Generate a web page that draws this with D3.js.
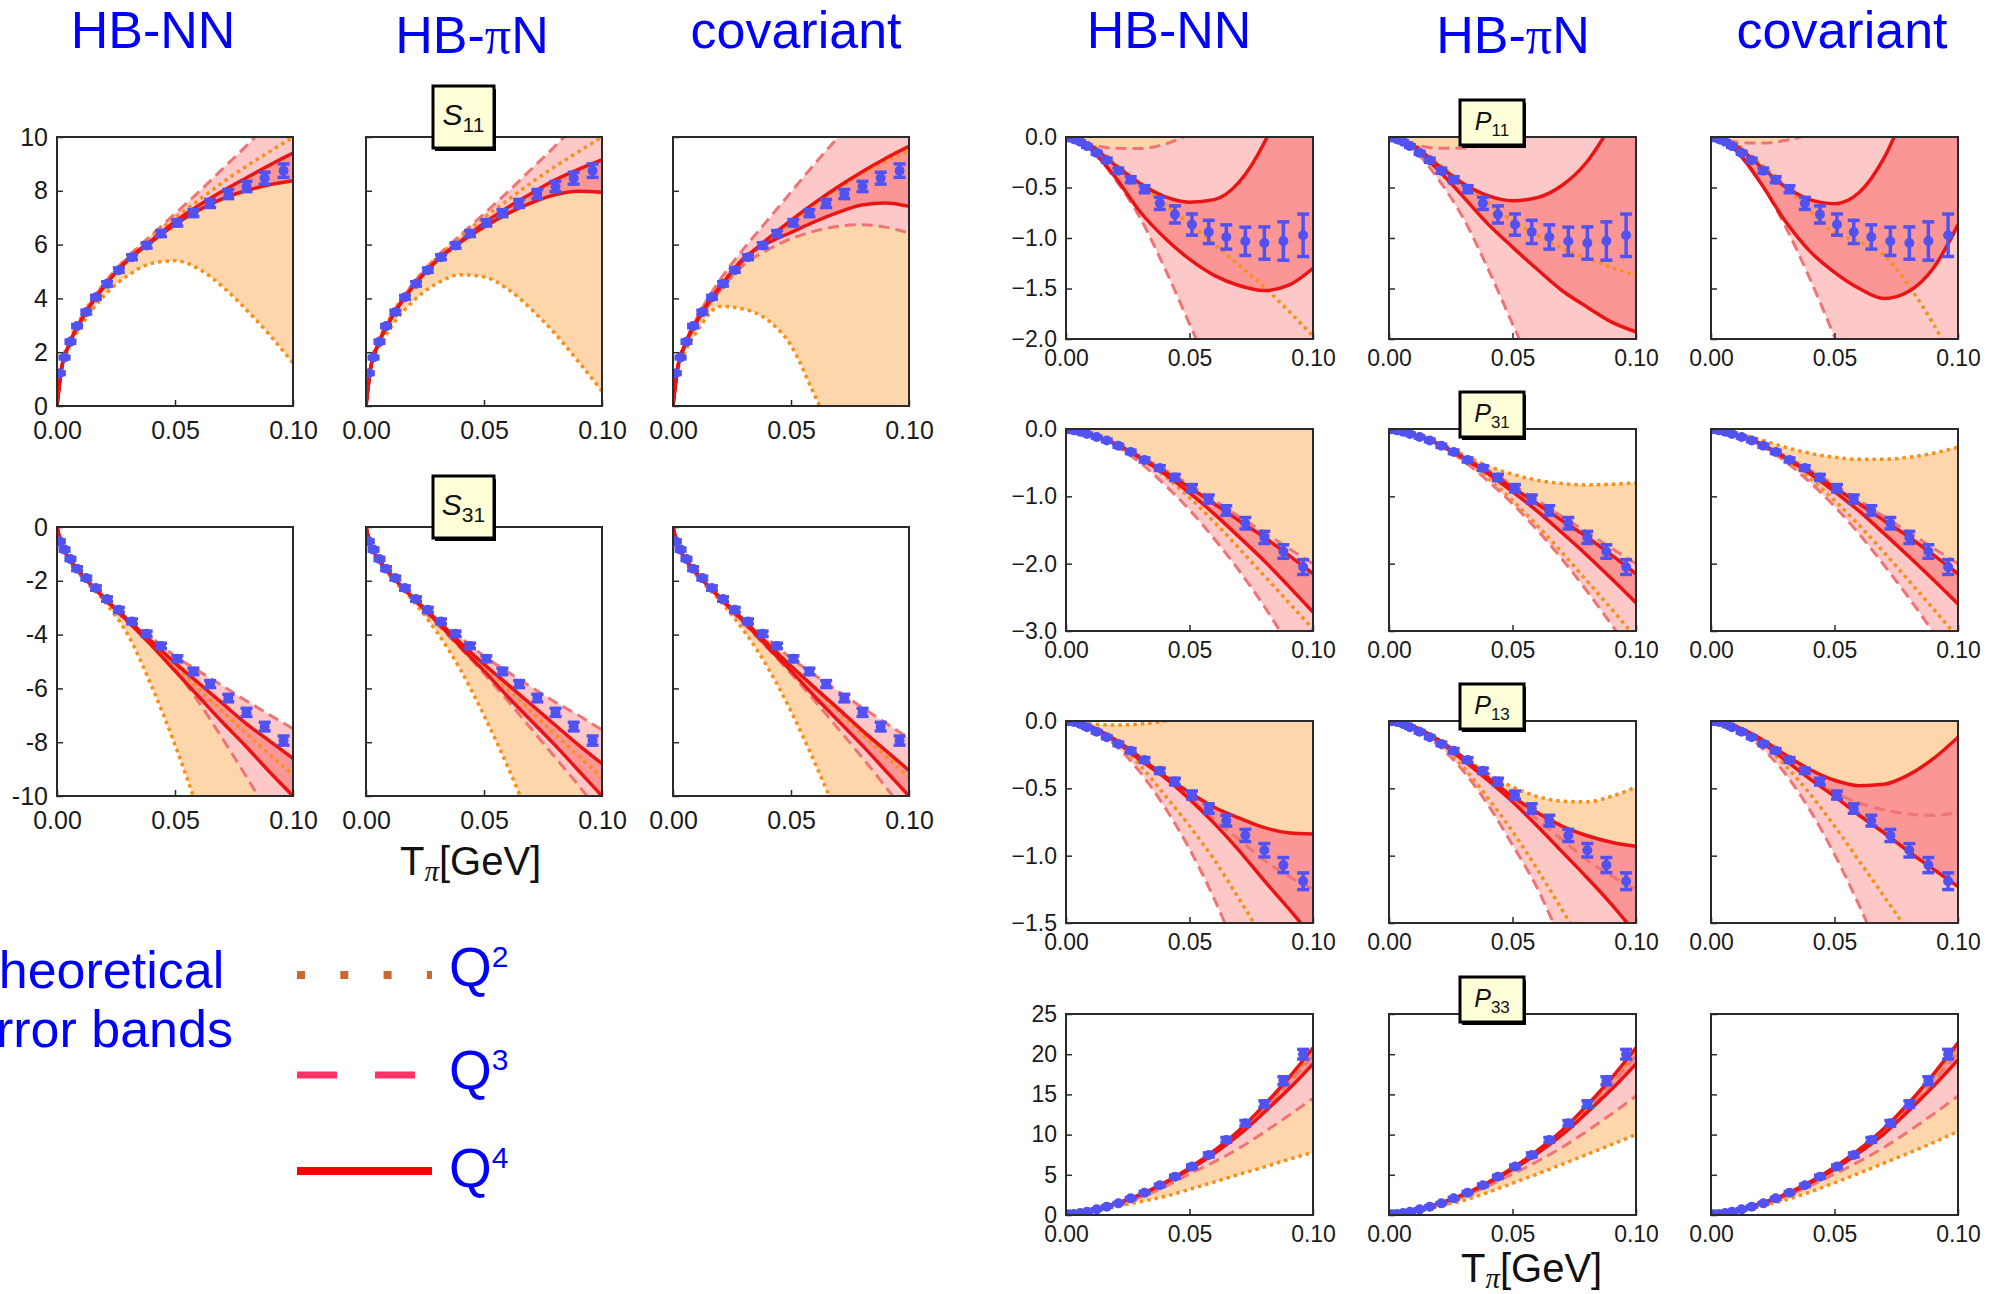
<!DOCTYPE html>
<html>
<head>
<meta charset="utf-8">
<script src="https://cdn.jsdelivr.net/npm/d3@7"></script>
<style>
  body { margin: 0; background: #fff; }
  svg { display: block; }
</style>
</head>
<body>
<svg id="chart" width="2001" height="1294"></svg>
<script>
// ---------- shared abscissae (T_pi in GeV) ----------
const T_GRID = [0, 0.002, 0.005, 0.01, 0.02, 0.03, 0.04, 0.05, 0.06, 0.07, 0.08, 0.09, 0.1];
const T_DATA = [0.0012, 0.0032, 0.0057, 0.0085, 0.0124, 0.0165, 0.0212, 0.0262, 0.0318, 0.038,
                0.0441, 0.051, 0.0578, 0.0649, 0.0726, 0.0803, 0.088, 0.096];
const X_TICKS = [0, 0.05, 0.1];
const X_TICK_LABELS = ["0.00", "0.05", "0.10"];

// ---------- phase-shift data (degrees) with errors ----------
const S11_DATA = [1.22, 1.8, 2.39, 2.97, 3.49, 4.04, 4.54, 5.05, 5.53, 5.97, 6.41, 6.81, 7.17, 7.53, 7.88, 8.16, 8.47, 8.75];
const S11_ERR  = [0.05, 0.05, 0.06, 0.06, 0.07, 0.07, 0.08, 0.08, 0.09, 0.1, 0.11, 0.12, 0.13, 0.15, 0.17, 0.19, 0.22, 0.25];
const S31_DATA = [-0.53, -0.84, -1.19, -1.55, -1.9, -2.27, -2.68, -3.08, -3.51, -3.97, -4.42, -4.9, -5.37, -5.84, -6.36, -6.89, -7.42, -7.94];
const S31_ERR  = [0.05, 0.06, 0.06, 0.07, 0.07, 0.08, 0.08, 0.09, 0.09, 0.1, 0.1, 0.11, 0.12, 0.13, 0.14, 0.15, 0.16, 0.17];
const P11_DATA = [-0.005, -0.023, -0.047, -0.09, -0.157, -0.23, -0.333, -0.423, -0.517, -0.657, -0.767, -0.867, -0.94, -0.99, -1.033, -1.05, -1.03, -0.973];
const P11_ERR  = [0.005, 0.008, 0.01, 0.012, 0.015, 0.02, 0.025, 0.03, 0.035, 0.06, 0.085, 0.105, 0.115, 0.12, 0.14, 0.16, 0.19, 0.21];
const P31_DATA = [-0.003, -0.02, -0.04, -0.074, -0.12, -0.17, -0.25, -0.34, -0.46, -0.58, -0.72, -0.88, -1.04, -1.21, -1.4, -1.61, -1.82, -2.05];
const P31_ERR  = [0.01, 0.01, 0.012, 0.014, 0.016, 0.02, 0.022, 0.025, 0.03, 0.035, 0.045, 0.055, 0.06, 0.07, 0.085, 0.09, 0.1, 0.11];
const P13_DATA = [-0.002, -0.007, -0.022, -0.047, -0.08, -0.12, -0.17, -0.22, -0.29, -0.37, -0.45, -0.55, -0.65, -0.74, -0.85, -0.96, -1.07, -1.19];
const P13_ERR  = [0.005, 0.006, 0.007, 0.008, 0.01, 0.011, 0.013, 0.015, 0.018, 0.02, 0.025, 0.03, 0.035, 0.04, 0.045, 0.05, 0.056, 0.062];
const P33_DATA = [0.08, 0.12, 0.25, 0.41, 0.7, 1.04, 1.45, 2.07, 2.78, 3.69, 4.77, 6.02, 7.47, 9.34, 11.4, 13.8, 16.7, 20.0];
const P33_ERR  = [0.05, 0.05, 0.06, 0.07, 0.08, 0.09, 0.1, 0.12, 0.14, 0.16, 0.18, 0.2, 0.25, 0.3, 0.35, 0.4, 0.5, 0.6];

// ---------- theoretical error-band edges on T_GRID ----------
// S11
const S11_NN_Q2_LO = [0, 1.38, 2.15, 2.95, 4.1, 4.85, 5.3, 5.4, 5.1, 4.45, 3.6, 2.65, 1.6];
const S11_NN_Q2_UP = [0, 1.5, 2.35, 3.25, 4.55, 5.5, 6.3, 7.0, 7.65, 8.3, 8.9, 9.45, 10.0];
const S11_NN_Q3_LO = [0, 1.42, 2.25, 3.15, 4.45, 5.42, 6.1, 6.75, 7.28, 7.7, 8.0, 8.22, 8.37];
const S11_NN_Q3_UP = [0, 1.45, 2.3, 3.2, 4.55, 5.55, 6.35, 7.15, 7.95, 8.8, 9.65, 10.55, 11.5];
const S11_NN_Q4_LO = [0, 1.42, 2.25, 3.15, 4.45, 5.42, 6.1, 6.75, 7.28, 7.7, 8.0, 8.22, 8.37];
const S11_NN_Q4_UP = [0, 1.42, 2.25, 3.15, 4.45, 5.45, 6.15, 6.85, 7.45, 7.98, 8.47, 8.95, 9.4];

const S11_PN_Q2_LO = [0, 1.35, 2.1, 2.85, 3.9, 4.55, 4.88, 4.8, 4.35, 3.6, 2.7, 1.65, 0.55];
const S11_PN_Q2_UP = [0, 1.5, 2.35, 3.25, 4.55, 5.5, 6.3, 7.0, 7.65, 8.3, 8.9, 9.45, 10.0];
const S11_PN_Q3_LO = [0, 1.42, 2.25, 3.15, 4.45, 5.4, 6.08, 6.65, 7.15, 7.55, 7.85, 7.98, 7.95];
const S11_PN_Q3_UP = [0, 1.45, 2.3, 3.2, 4.55, 5.55, 6.35, 7.15, 7.95, 8.8, 9.65, 10.55, 11.5];
const S11_PN_Q4_LO = [0, 1.42, 2.25, 3.15, 4.45, 5.4, 6.08, 6.65, 7.15, 7.55, 7.85, 7.98, 7.95];
const S11_PN_Q4_UP = [0, 1.42, 2.25, 3.15, 4.45, 5.42, 6.12, 6.8, 7.38, 7.9, 8.4, 8.8, 9.15];

const S11_CV_Q2_LO = [0, 1.3, 2.0, 2.75, 3.7, 3.6, 3.2, 2.25, 0.4, -1.5, -3.6, -5.9, -8.4];
const S11_CV_Q2_UP = [0, 1.45, 2.3, 3.2, 4.5, 5.45, 6.15, 6.85, 7.5, 8.1, 8.65, 9.1, 9.5];
const S11_CV_Q3_LO = [0, 1.4, 2.2, 3.05, 4.3, 5.25, 5.8, 6.22, 6.5, 6.68, 6.74, 6.65, 6.43];
const S11_CV_Q3_UP = [0, 1.45, 2.3, 3.25, 4.7, 5.85, 6.9, 7.95, 9.0, 10.0, 11.0, 12.0, 13.0];
const S11_CV_Q4_LO = [0, 1.42, 2.25, 3.15, 4.42, 5.5, 6.05, 6.45, 6.85, 7.2, 7.47, 7.55, 7.42];
const S11_CV_Q4_UP = [0, 1.42, 2.25, 3.15, 4.45, 5.45, 6.2, 6.9, 7.55, 8.15, 8.7, 9.2, 9.65];

// S31
const S31_NN_Q2_LO = [0, -0.7, -1.2, -1.8, -2.75, -4.0, -5.9, -8.1, -10.6, -13.3, -16, -19, -22];
const S31_NN_Q2_UP = [0, -0.65, -1.1, -1.68, -2.6, -3.45, -4.3, -5.15, -6.0, -6.85, -7.65, -8.45, -9.2];
const S31_NN_Q3_LO = [0, -0.68, -1.15, -1.74, -2.7, -3.55, -4.3, -5.3, -6.5, -7.85, -9.25, -10.7, -12.2];
const S31_NN_Q3_UP = [0, -0.68, -1.15, -1.72, -2.62, -3.4, -4.1, -4.8, -5.35, -5.9, -6.45, -6.98, -7.5];
const S31_NN_Q4_LO = [0, -0.68, -1.15, -1.72, -2.65, -3.5, -4.4, -5.35, -6.3, -7.25, -8.15, -9.1, -10.0];
const S31_NN_Q4_UP = [0, -0.68, -1.15, -1.72, -2.63, -3.45, -4.25, -5.05, -5.8, -6.55, -7.3, -7.95, -8.6];

const S31_PN_Q2_LO = [0, -0.7, -1.2, -1.8, -2.75, -3.9, -5.3, -7.0, -8.9, -11, -13.2, -15.6, -18];
const S31_PN_Q2_UP = [0, -0.65, -1.1, -1.68, -2.6, -3.45, -4.3, -5.15, -6.0, -6.85, -7.7, -8.5, -9.3];
const S31_PN_Q3_LO = [0, -0.68, -1.15, -1.74, -2.7, -3.6, -4.5, -5.45, -6.45, -7.5, -8.55, -9.6, -10.7];
const S31_PN_Q3_UP = [0, -0.68, -1.15, -1.72, -2.62, -3.4, -4.1, -4.8, -5.38, -5.95, -6.5, -7.0, -7.55];
const S31_PN_Q4_LO = [0, -0.68, -1.15, -1.72, -2.65, -3.52, -4.45, -5.35, -6.3, -7.2, -8.1, -9.05, -10.0];
const S31_PN_Q4_UP = [0, -0.68, -1.15, -1.72, -2.63, -3.45, -4.3, -5.1, -5.85, -6.6, -7.35, -8.1, -8.8];

const S31_CV_Q2_LO = [0, -0.7, -1.2, -1.8, -2.75, -3.85, -5.2, -6.85, -8.75, -10.8, -13, -15.4, -18];
const S31_CV_Q2_UP = [0, -0.65, -1.1, -1.68, -2.6, -3.45, -4.3, -5.17, -6.0, -6.85, -7.7, -8.5, -9.3];
const S31_CV_Q3_LO = [0, -0.68, -1.15, -1.74, -2.7, -3.6, -4.5, -5.45, -6.45, -7.5, -8.55, -9.65, -10.8];
const S31_CV_Q3_UP = [0, -0.68, -1.15, -1.72, -2.62, -3.42, -4.15, -4.88, -5.5, -6.1, -6.7, -7.28, -7.85];
const S31_CV_Q4_LO = [0, -0.68, -1.15, -1.72, -2.65, -3.52, -4.45, -5.35, -6.3, -7.2, -8.1, -9.05, -10.0];
const S31_CV_Q4_UP = [0, -0.68, -1.15, -1.72, -2.63, -3.47, -4.33, -5.17, -5.97, -6.75, -7.55, -8.3, -9.05];

// P11
const P11_NN_Q2_LO = [0, -0.002, -0.01, -0.07, -0.27, -0.47, -0.67, -0.86, -1.06, -1.27, -1.48, -1.72, -1.97];
const P11_NN_Q2_UP = [0, 0.02, 0.05, 0.1, 0.2, 0.3, 0.4, 0.5, 0.6, 0.7, 0.8, 0.9, 1.0];
const P11_NN_Q3_LO = [0, -0.003, -0.02, -0.12, -0.42, -0.8, -1.3, -1.85, -2.4, -3.0, -3.6, -4.2, -4.8];
const P11_NN_Q3_UP = [0, -0.02, -0.045, -0.075, -0.112, -0.115, -0.07, 0.03, 0.2, 0.4, 0.6, 0.8, 1.0];
const P11_NN_Q4_LO = [0, -0.004, -0.03, -0.12, -0.4, -0.74, -1.0, -1.21, -1.37, -1.47, -1.52, -1.47, -1.3];
const P11_NN_Q4_UP = [0, -0.003, -0.02, -0.085, -0.28, -0.46, -0.59, -0.645, -0.62, -0.45, -0.07, 0.5, 1.2];

const P11_PN_Q2_LO = [0, -0.002, -0.01, -0.07, -0.27, -0.46, -0.65, -0.83, -0.97, -1.1, -1.2, -1.29, -1.37];
const P11_PN_Q2_UP = [0, 0.02, 0.05, 0.1, 0.2, 0.3, 0.4, 0.5, 0.6, 0.7, 0.8, 0.9, 1.0];
const P11_PN_Q3_LO = [0, -0.003, -0.02, -0.12, -0.42, -0.8, -1.3, -1.85, -2.4, -3.0, -3.6, -4.2, -4.8];
const P11_PN_Q3_UP = [0, -0.02, -0.045, -0.075, -0.112, -0.11, -0.06, 0.04, 0.2, 0.4, 0.6, 0.8, 1.0];
const P11_PN_Q4_LO = [0, -0.004, -0.03, -0.1, -0.33, -0.59, -0.86, -1.09, -1.31, -1.52, -1.68, -1.83, -1.93];
const P11_PN_Q4_UP = [0, -0.003, -0.02, -0.085, -0.28, -0.46, -0.58, -0.63, -0.6, -0.48, -0.25, 0.12, 0.55];

const P11_CV_Q2_LO = [0, -0.002, -0.01, -0.07, -0.27, -0.48, -0.73, -0.95, -1.04, -1.17, -1.47, -1.85, -2.3];
const P11_CV_Q2_UP = [0, 0.02, 0.05, 0.1, 0.2, 0.3, 0.4, 0.5, 0.6, 0.7, 0.8, 0.9, 1.0];
const P11_CV_Q3_LO = [0, -0.004, -0.03, -0.14, -0.45, -0.88, -1.4, -1.98, -2.6, -3.2, -3.8, -4.4, -5.0];
const P11_CV_Q3_UP = [0, -0.015, -0.03, -0.05, -0.06, -0.035, 0.03, 0.15, 0.3, 0.5, 0.7, 0.9, 1.1];
const P11_CV_Q4_LO = [0, -0.004, -0.04, -0.13, -0.45, -0.83, -1.13, -1.34, -1.5, -1.6, -1.53, -1.3, -0.87];
const P11_CV_Q4_UP = [0, -0.003, -0.02, -0.085, -0.29, -0.49, -0.62, -0.66, -0.55, -0.21, 0.34, 1.0, 1.8];

// P31
const P31_NN_Q2_LO = [0, -0.002, -0.025, -0.085, -0.22, -0.43, -0.7, -1.02, -1.38, -1.77, -2.17, -2.57, -2.97];
const P31_NN_Q2_UP = [0, 0.02, 0.05, 0.1, 0.2, 0.3, 0.4, 0.5, 0.6, 0.7, 0.8, 0.9, 1.0];
const P31_NN_Q3_LO = [0, -0.003, -0.027, -0.09, -0.25, -0.5, -0.83, -1.2, -1.63, -2.1, -2.62, -3.2, -3.8];
const P31_NN_Q3_UP = [0, -0.002, -0.022, -0.08, -0.21, -0.4, -0.61, -0.83, -1.06, -1.3, -1.53, -1.77, -2.0];
const P31_NN_Q4_LO = [0, -0.002, -0.025, -0.085, -0.22, -0.43, -0.67, -0.95, -1.26, -1.6, -1.95, -2.33, -2.72];
const P31_NN_Q4_UP = [0, -0.002, -0.025, -0.085, -0.22, -0.42, -0.64, -0.87, -1.11, -1.36, -1.6, -1.87, -2.15];

const P31_PN_Q2_LO = [0, -0.002, -0.025, -0.087, -0.23, -0.45, -0.73, -1.06, -1.43, -1.83, -2.25, -2.67, -3.1];
const P31_PN_Q2_UP = [0, -0.002, -0.02, -0.07, -0.2, -0.38, -0.55, -0.67, -0.76, -0.81, -0.83, -0.82, -0.8];
const P31_PN_Q3_LO = [0, -0.003, -0.027, -0.09, -0.24, -0.47, -0.77, -1.11, -1.5, -1.93, -2.4, -2.9, -3.4];
const P31_PN_Q3_UP = [0, -0.002, -0.022, -0.08, -0.21, -0.4, -0.61, -0.83, -1.06, -1.3, -1.53, -1.77, -2.0];
const P31_PN_Q4_LO = [0, -0.002, -0.025, -0.085, -0.22, -0.43, -0.66, -0.93, -1.22, -1.54, -1.87, -2.22, -2.58];
const P31_PN_Q4_UP = [0, -0.002, -0.025, -0.085, -0.22, -0.42, -0.64, -0.87, -1.11, -1.36, -1.6, -1.87, -2.15];

const P31_CV_Q2_LO = [0, -0.002, -0.025, -0.087, -0.23, -0.45, -0.73, -1.06, -1.43, -1.83, -2.25, -2.67, -3.1];
const P31_CV_Q2_UP = [0, -0.002, -0.02, -0.06, -0.16, -0.27, -0.36, -0.42, -0.45, -0.45, -0.42, -0.36, -0.27];
const P31_CV_Q3_LO = [0, -0.003, -0.027, -0.09, -0.245, -0.48, -0.79, -1.15, -1.56, -2.02, -2.5, -3.02, -3.55];
const P31_CV_Q3_UP = [0, -0.002, -0.022, -0.08, -0.21, -0.4, -0.61, -0.83, -1.06, -1.3, -1.53, -1.77, -2.0];
const P31_CV_Q4_LO = [0, -0.002, -0.025, -0.085, -0.22, -0.43, -0.66, -0.93, -1.22, -1.55, -1.89, -2.24, -2.6];
const P31_CV_Q4_UP = [0, -0.002, -0.025, -0.085, -0.22, -0.42, -0.64, -0.87, -1.11, -1.36, -1.6, -1.87, -2.15];

// P13
const P13_NN_Q2_LO = [0, -0.001, -0.012, -0.048, -0.16, -0.33, -0.55, -0.78, -1.03, -1.32, -1.62, -1.95, -2.3];
const P13_NN_Q2_UP = [0, -0.006, -0.012, -0.022, -0.03, -0.022, 0.0, 0.05, 0.15, 0.3, 0.45, 0.6, 0.75];
const P13_NN_Q3_LO = [0, -0.001, -0.012, -0.05, -0.18, -0.38, -0.64, -0.95, -1.32, -1.75, -2.2, -2.7, -3.2];
const P13_NN_Q3_UP = [0, -0.001, -0.01, -0.042, -0.14, -0.27, -0.42, -0.57, -0.73, -0.88, -1.03, -1.15, -1.25];
const P13_NN_Q4_LO = [0, -0.001, -0.01, -0.045, -0.15, -0.29, -0.42, -0.58, -0.76, -0.96, -1.18, -1.39, -1.61];
const P13_NN_Q4_UP = [0, -0.001, -0.01, -0.04, -0.14, -0.27, -0.41, -0.53, -0.64, -0.72, -0.79, -0.83, -0.84];

const P13_PN_Q2_LO = [0, -0.001, -0.012, -0.048, -0.16, -0.34, -0.57, -0.82, -1.1, -1.4, -1.7, -2.0, -2.3];
const P13_PN_Q2_UP = [0, -0.001, -0.01, -0.04, -0.14, -0.27, -0.39, -0.49, -0.56, -0.595, -0.6, -0.56, -0.49];
const P13_PN_Q3_LO = [0, -0.001, -0.012, -0.05, -0.18, -0.37, -0.62, -0.92, -1.24, -1.65, -2.1, -2.6, -3.1];
const P13_PN_Q3_UP = [0, -0.001, -0.01, -0.042, -0.14, -0.27, -0.42, -0.57, -0.73, -0.88, -1.03, -1.15, -1.25];
const P13_PN_Q4_LO = [0, -0.001, -0.01, -0.045, -0.15, -0.29, -0.44, -0.6, -0.78, -0.97, -1.16, -1.36, -1.58];
const P13_PN_Q4_UP = [0, -0.001, -0.01, -0.04, -0.14, -0.27, -0.42, -0.56, -0.68, -0.78, -0.85, -0.9, -0.93];

const P13_CV_Q2_LO = [0, -0.001, -0.012, -0.047, -0.16, -0.33, -0.54, -0.78, -1.04, -1.3, -1.57, -1.88, -2.2];
const P13_CV_Q2_UP = [0, 0.01, 0.02, 0.04, 0.08, 0.12, 0.16, 0.2, 0.25, 0.3, 0.35, 0.4, 0.45];
const P13_CV_Q3_LO = [0, -0.001, -0.012, -0.05, -0.19, -0.39, -0.66, -0.99, -1.37, -1.8, -2.25, -2.75, -3.25];
const P13_CV_Q3_UP = [0, -0.001, -0.01, -0.04, -0.14, -0.28, -0.42, -0.53, -0.61, -0.66, -0.69, -0.7, -0.68];
const P13_CV_Q4_LO = [0, -0.001, -0.01, -0.042, -0.15, -0.29, -0.43, -0.56, -0.7, -0.83, -0.97, -1.1, -1.23];
const P13_CV_Q4_UP = [0, -0.001, -0.01, -0.04, -0.13, -0.25, -0.36, -0.44, -0.48, -0.47, -0.4, -0.28, -0.12];

// P33
const P33_NN_Q2_LO = [0, 0.06, 0.17, 0.45, 1.05, 1.65, 2.3, 3.2, 4.1, 5.05, 5.95, 6.9, 7.8];
const P33_NN_Q2_UP = [0, 0.07, 0.2, 0.55, 1.4, 2.55, 4.0, 5.8, 7.9, 10.4, 13.3, 16.6, 20.3];
const P33_NN_Q3_LO = [0, 0.07, 0.2, 0.52, 1.25, 2.2, 3.5, 5.1, 6.6, 8.3, 10.25, 12.35, 14.5];
const P33_NN_Q3_UP = [0, 0.07, 0.2, 0.55, 1.39, 2.52, 3.98, 5.72, 7.8, 10.2, 13.1, 16.3, 19.8];
const P33_NN_Q4_LO = [0, 0.07, 0.2, 0.55, 1.38, 2.5, 3.95, 5.65, 7.65, 9.95, 12.7, 15.6, 18.8];
const P33_NN_Q4_UP = [0, 0.07, 0.2, 0.55, 1.4, 2.55, 4.05, 5.85, 8.0, 10.5, 13.6, 17.0, 20.8];

const P33_PN_Q2_LO = [0, 0.06, 0.18, 0.48, 1.1, 1.8, 2.8, 3.95, 5.1, 6.3, 7.5, 8.75, 10.0];
const P33_PN_Q2_UP = [0, 0.07, 0.2, 0.55, 1.4, 2.55, 4.0, 5.8, 7.9, 10.4, 13.3, 16.6, 20.3];
const P33_PN_Q3_LO = [0, 0.07, 0.2, 0.53, 1.3, 2.3, 3.6, 5.1, 6.65, 8.4, 10.4, 12.55, 14.8];
const P33_PN_Q3_UP = [0, 0.07, 0.2, 0.55, 1.39, 2.52, 3.98, 5.72, 7.8, 10.2, 13.1, 16.3, 19.8];
const P33_PN_Q4_LO = [0, 0.07, 0.2, 0.55, 1.38, 2.5, 3.95, 5.65, 7.65, 9.95, 12.7, 15.6, 18.8];
const P33_PN_Q4_UP = [0, 0.07, 0.2, 0.55, 1.4, 2.55, 4.05, 5.85, 8.0, 10.5, 13.6, 17.0, 20.8];

const P33_CV_Q2_LO = [0, 0.06, 0.18, 0.48, 1.12, 1.85, 2.85, 4.0, 5.2, 6.45, 7.7, 9.0, 10.4];
const P33_CV_Q2_UP = [0, 0.07, 0.2, 0.55, 1.4, 2.56, 4.05, 5.9, 8.05, 10.6, 13.7, 17.2, 21.0];
const P33_CV_Q3_LO = [0, 0.07, 0.2, 0.53, 1.3, 2.3, 3.6, 5.1, 6.65, 8.4, 10.4, 12.55, 14.8];
const P33_CV_Q3_UP = [0, 0.07, 0.2, 0.55, 1.39, 2.53, 4.0, 5.8, 7.9, 10.35, 13.3, 16.6, 20.2];
const P33_CV_Q4_LO = [0, 0.07, 0.2, 0.55, 1.38, 2.5, 3.97, 5.7, 7.75, 10.1, 12.95, 16.0, 19.3];
const P33_CV_Q4_UP = [0, 0.07, 0.2, 0.55, 1.4, 2.57, 4.1, 5.95, 8.15, 10.75, 13.9, 17.5, 21.4];

// ---------- axis tick values ----------
const S11_TICKS = [0, 2, 4, 6, 8, 10];
const S31_TICKS = [0, -2, -4, -6, -8, -10];
const P11_TICKS = [0, -0.5, -1.0, -1.5, -2.0];
const P31_TICKS = [0, -1.0, -2.0, -3.0];
const P13_TICKS = [0, -0.5, -1.0, -1.5];
const P33_TICKS = [0, 5, 10, 15, 20, 25];

// ---------- titles / legend text ----------
const SCHEMES = ["HB-NN", "HB-\u03c0N", "covariant"];
const ORDERS = ["2", "3", "4"];

// ---------- layout ----------
const LEFT  = { cols: [57, 366, 673],    w: 236, box: { x: 433, w: 61, up: 51, h: 62 }, font: 25, xPad: 15 };
const RIGHT = { cols: [1066, 1389, 1711], w: 247, box: { x: 1460, w: 64, up: 37, h: 45 }, font: 23, xPad: 11 };

const COLORS = {
  q2Fill: "#fdd6ab", q3Fill: "#fdc8c8", q4Fill: "#fa9696",
  q2Line: "#f7901a", q3Line: "#f07474", q4Line: "#ea1414",
  data: "#5252f2", frame: "#2a2a2a", title: "#0000ff"
};
const FONT = "'Liberation Sans', Arial, Helvetica, sans-serif";

const fmtInt = v => (v < 0 ? "-" + Math.abs(v) : String(v));
const fmtOne = v => (v < 0 ? "\u2212" + Math.abs(v).toFixed(1) : v.toFixed(1));

const bands = (a) => ({ q2: [a[0], a[1]], q3: [a[2], a[3]], q4: [a[4], a[5]] });

const PANELS = [
  { key: "S11", label: "S", sub: "11", side: LEFT, top: 137, h: 269, domain: [0, 10], ticks: S11_TICKS, fmt: fmtInt,
    data: S11_DATA, err: S11_ERR,
    sets: [bands([S11_NN_Q2_LO, S11_NN_Q2_UP, S11_NN_Q3_LO, S11_NN_Q3_UP, S11_NN_Q4_LO, S11_NN_Q4_UP]),
           bands([S11_PN_Q2_LO, S11_PN_Q2_UP, S11_PN_Q3_LO, S11_PN_Q3_UP, S11_PN_Q4_LO, S11_PN_Q4_UP]),
           bands([S11_CV_Q2_LO, S11_CV_Q2_UP, S11_CV_Q3_LO, S11_CV_Q3_UP, S11_CV_Q4_LO, S11_CV_Q4_UP])] },
  { key: "S31", label: "S", sub: "31", side: LEFT, top: 527, h: 269, domain: [-10, 0], ticks: S31_TICKS, fmt: fmtInt,
    data: S31_DATA, err: S31_ERR,
    sets: [bands([S31_NN_Q2_LO, S31_NN_Q2_UP, S31_NN_Q3_LO, S31_NN_Q3_UP, S31_NN_Q4_LO, S31_NN_Q4_UP]),
           bands([S31_PN_Q2_LO, S31_PN_Q2_UP, S31_PN_Q3_LO, S31_PN_Q3_UP, S31_PN_Q4_LO, S31_PN_Q4_UP]),
           bands([S31_CV_Q2_LO, S31_CV_Q2_UP, S31_CV_Q3_LO, S31_CV_Q3_UP, S31_CV_Q4_LO, S31_CV_Q4_UP])] },
  { key: "P11", label: "P", sub: "11", side: RIGHT, top: 137, h: 202, domain: [-2, 0], ticks: P11_TICKS, fmt: fmtOne,
    data: P11_DATA, err: P11_ERR,
    sets: [bands([P11_NN_Q2_LO, P11_NN_Q2_UP, P11_NN_Q3_LO, P11_NN_Q3_UP, P11_NN_Q4_LO, P11_NN_Q4_UP]),
           bands([P11_PN_Q2_LO, P11_PN_Q2_UP, P11_PN_Q3_LO, P11_PN_Q3_UP, P11_PN_Q4_LO, P11_PN_Q4_UP]),
           bands([P11_CV_Q2_LO, P11_CV_Q2_UP, P11_CV_Q3_LO, P11_CV_Q3_UP, P11_CV_Q4_LO, P11_CV_Q4_UP])] },
  { key: "P31", label: "P", sub: "31", side: RIGHT, top: 429, h: 202, domain: [-3, 0], ticks: P31_TICKS, fmt: fmtOne,
    data: P31_DATA, err: P31_ERR,
    sets: [bands([P31_NN_Q2_LO, P31_NN_Q2_UP, P31_NN_Q3_LO, P31_NN_Q3_UP, P31_NN_Q4_LO, P31_NN_Q4_UP]),
           bands([P31_PN_Q2_LO, P31_PN_Q2_UP, P31_PN_Q3_LO, P31_PN_Q3_UP, P31_PN_Q4_LO, P31_PN_Q4_UP]),
           bands([P31_CV_Q2_LO, P31_CV_Q2_UP, P31_CV_Q3_LO, P31_CV_Q3_UP, P31_CV_Q4_LO, P31_CV_Q4_UP])] },
  { key: "P13", label: "P", sub: "13", side: RIGHT, top: 721, h: 202, domain: [-1.5, 0], ticks: P13_TICKS, fmt: fmtOne,
    data: P13_DATA, err: P13_ERR,
    sets: [bands([P13_NN_Q2_LO, P13_NN_Q2_UP, P13_NN_Q3_LO, P13_NN_Q3_UP, P13_NN_Q4_LO, P13_NN_Q4_UP]),
           bands([P13_PN_Q2_LO, P13_PN_Q2_UP, P13_PN_Q3_LO, P13_PN_Q3_UP, P13_PN_Q4_LO, P13_PN_Q4_UP]),
           bands([P13_CV_Q2_LO, P13_CV_Q2_UP, P13_CV_Q3_LO, P13_CV_Q3_UP, P13_CV_Q4_LO, P13_CV_Q4_UP])] },
  { key: "P33", label: "P", sub: "33", side: RIGHT, top: 1014, h: 201, domain: [0, 25], ticks: P33_TICKS, fmt: fmtInt,
    data: P33_DATA, err: P33_ERR,
    sets: [bands([P33_NN_Q2_LO, P33_NN_Q2_UP, P33_NN_Q3_LO, P33_NN_Q3_UP, P33_NN_Q4_LO, P33_NN_Q4_UP]),
           bands([P33_PN_Q2_LO, P33_PN_Q2_UP, P33_PN_Q3_LO, P33_PN_Q3_UP, P33_PN_Q4_LO, P33_PN_Q4_UP]),
           bands([P33_CV_Q2_LO, P33_CV_Q2_UP, P33_CV_Q3_LO, P33_CV_Q3_UP, P33_CV_Q4_LO, P33_CV_Q4_UP])] }
];

const svg = d3.select("#chart");
const defs = svg.append("defs");

function drawPanel(p, col) {
  const side = p.side;
  const x0 = side.cols[col], w = side.w, top = p.top, h = p.h;
  const x = d3.scaleLinear().domain([0, 0.1]).range([x0, x0 + w]);
  const y = d3.scaleLinear().domain(p.domain).range([top + h, top]);
  const clipId = `clip-${p.key}-${col}`;
  defs.append("clipPath").attr("id", clipId)
    .append("rect").attr("x", x0).attr("y", top).attr("width", w).attr("height", h);

  const g = svg.append("g").attr("class", `panel ${p.key}`);
  const plot = g.append("g").attr("clip-path", `url(#${clipId})`);
  const set = p.sets[col];

  const area = (lo, up) => d3.area()
    .x((d, i) => x(T_GRID[i]))
    .y0((d, i) => y(lo[i]))
    .y1((d, i) => y(up[i]))
    .curve(d3.curveMonotoneX)(T_GRID);
  const line = (vals) => d3.line()
    .x((d, i) => x(T_GRID[i]))
    .y((d, i) => y(vals[i]))
    .curve(d3.curveMonotoneX)(T_GRID);

  // bands: lowest order first, higher orders painted over
  plot.append("path").attr("d", area(set.q2[0], set.q2[1])).attr("fill", COLORS.q2Fill);
  plot.append("path").attr("d", area(set.q3[0], set.q3[1])).attr("fill", COLORS.q3Fill);
  plot.append("path").attr("d", area(set.q4[0], set.q4[1])).attr("fill", COLORS.q4Fill);

  // band edges
  set.q2.forEach(v => plot.append("path").attr("d", line(v)).attr("fill", "none")
    .attr("stroke", COLORS.q2Line).attr("stroke-width", 3.5).attr("stroke-dasharray", "3.5 4"));
  set.q3.forEach(v => plot.append("path").attr("d", line(v)).attr("fill", "none")
    .attr("stroke", COLORS.q3Line).attr("stroke-width", 3).attr("stroke-dasharray", "11 6"));
  set.q4.forEach(v => plot.append("path").attr("d", line(v)).attr("fill", "none")
    .attr("stroke", COLORS.q4Line).attr("stroke-width", 3.5));

  // data with error bars
  const pts = plot.append("g").attr("fill", COLORS.data).attr("stroke", COLORS.data);
  p.data.forEach((v, i) => {
    const cx = x(T_DATA[i]);
    const yt = y(v + p.err[i]), yb = y(v - p.err[i]);
    pts.append("line").attr("x1", cx).attr("x2", cx).attr("y1", yt).attr("y2", yb).attr("stroke-width", 3.5);
    pts.append("line").attr("x1", cx - 6).attr("x2", cx + 6).attr("y1", yt).attr("y2", yt).attr("stroke-width", 3.5);
    pts.append("line").attr("x1", cx - 6).attr("x2", cx + 6).attr("y1", yb).attr("y2", yb).attr("stroke-width", 3.5);
    pts.append("circle").attr("cx", cx).attr("cy", y(v)).attr("r", 5).attr("stroke", "none");
  });

  // axes with inward ticks
  const yAxis = d3.axisLeft(y).tickValues(p.ticks).tickSize(-6).tickPadding(9)
    .tickFormat(col === 0 ? p.fmt : () => "");
  const xAxis = d3.axisBottom(x).tickValues(X_TICKS).tickSize(-6).tickPadding(side.xPad)
    .tickFormat((d, i) => X_TICK_LABELS[i]);
  const styleAxis = a => {
    a.select(".domain").remove();
    a.selectAll(".tick line").attr("stroke", COLORS.frame).attr("stroke-width", 1.5);
    a.selectAll(".tick text").attr("fill", "#1a1a1a").style("font-family", FONT).style("font-size", side.font + "px");
  };
  g.append("g").attr("transform", `translate(${x0},0)`).call(yAxis).call(styleAxis);
  g.append("g").attr("transform", `translate(0,${top + h})`).call(xAxis).call(styleAxis);

  // frame
  g.append("rect").attr("x", x0).attr("y", top).attr("width", w).attr("height", h)
    .attr("fill", "none").attr("stroke", COLORS.frame).attr("stroke-width", 2);
}

PANELS.forEach(p => [0, 1, 2].forEach(c => drawPanel(p, c)));

// partial-wave label boxes
PANELS.forEach(p => {
  const b = p.side.box;
  const by = p.top - b.up;
  const big = p.side === LEFT;
  svg.append("rect").attr("x", b.x + 2).attr("y", by + 3).attr("width", b.w).attr("height", b.h).attr("fill", "#000");
  svg.append("rect").attr("x", b.x).attr("y", by).attr("width", b.w).attr("height", b.h)
    .attr("fill", "#ffffd8").attr("stroke", "#000").attr("stroke-width", 3);
  const t = svg.append("text").attr("x", b.x + b.w / 2).attr("y", by + (big ? 39 : 30))
    .attr("text-anchor", "middle").style("font-family", FONT).attr("fill", "#111");
  t.append("tspan").text(p.label).style("font-style", "italic").style("font-size", (big ? 30 : 25) + "px");
  t.append("tspan").text(p.sub).attr("dy", big ? 7 : 6).style("font-size", (big ? 21 : 17) + "px");
});

// column headings
const HEAD_X = [[153, 472, 796], [1169, 1513, 1842]];
const HEAD_Y = [48, 53, 48];
HEAD_X.forEach(xs => xs.forEach((hx, i) => {
  const t = svg.append("text").attr("x", hx).attr("y", HEAD_Y[i]).attr("text-anchor", "middle")
    .attr("fill", COLORS.title).style("font-family", FONT).style("font-size", "52px");
  if (i === 1) {
    t.append("tspan").text("HB-");
    t.append("tspan").text("\u03c0").style("font-family", "'Liberation Serif', 'DejaVu Serif', serif");
    t.append("tspan").text("N");
  } else {
    t.text(SCHEMES[i]);
  }
}));

// x-axis titles
[[400, 875], [1461, 1282]].forEach(([tx, ty]) => {
  const t = svg.append("text").attr("x", tx).attr("y", ty).attr("fill", "#111")
    .style("font-family", FONT).style("font-size", "40px");
  t.append("tspan").text("T");
  t.append("tspan").text("\u03c0").attr("dy", 6).style("font-style", "italic")
    .style("font-family", "'Liberation Serif', 'DejaVu Serif', serif").style("font-size", "29px");
  t.append("tspan").text("[GeV]").attr("dy", -6);
});

// legend
const leg = svg.append("g");
leg.append("text").attr("x", -33).attr("y", 988).attr("fill", COLORS.title)
  .style("font-family", FONT).style("font-size", "52px").text("Theoretical");
leg.append("text").attr("x", -33).attr("y", 1047).attr("fill", COLORS.title)
  .style("font-family", FONT).style("font-size", "52px").text("error bands");
const LEG_ROWS = [
  { y: 975,  stroke: "#cc6633", width: 8, dash: "8 35.3", x2: 432, ty: 986 },
  { y: 1075, stroke: "#ff3366", width: 7, dash: "40 38",  x2: 415, ty: 1089 },
  { y: 1171, stroke: "#ff0000", width: 8, dash: null,     x2: 432, ty: 1187 }
];
LEG_ROWS.forEach((r, i) => {
  const l = leg.append("line").attr("x1", 297).attr("x2", r.x2).attr("y1", r.y).attr("y2", r.y)
    .attr("stroke", r.stroke).attr("stroke-width", r.width);
  if (r.dash) l.attr("stroke-dasharray", r.dash);
  const t = leg.append("text").attr("x", 449).attr("y", r.ty).attr("fill", COLORS.title)
    .style("font-family", FONT).style("font-size", "55px");
  t.append("tspan").text("Q");
  t.append("tspan").text(ORDERS[i]).attr("dy", -19).style("font-size", "30px");
});
</script>
</body>
</html>
